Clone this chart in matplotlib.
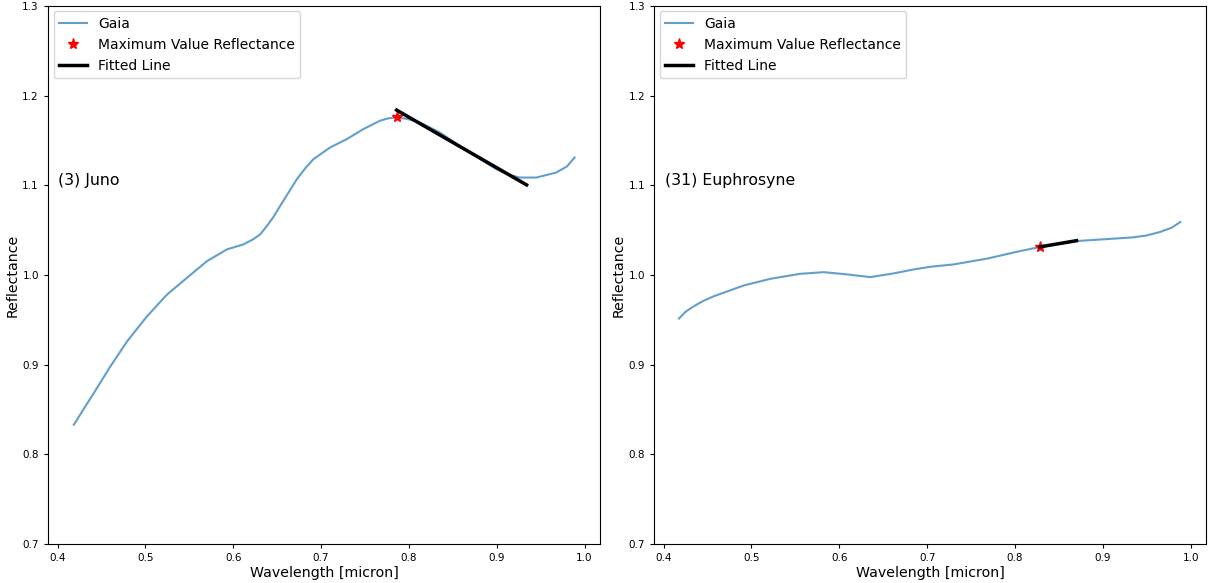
import matplotlib
matplotlib.use("Agg")
import matplotlib.pyplot as plt

# Gaia reflectance spectra (smoothed), wavelength in micron
juno_wl = [0.4185, 0.4300, 0.4413, 0.4602, 0.4792, 0.5019, 0.5246, 0.5474,
           0.5701, 0.5928, 0.6117, 0.6231, 0.6307, 0.6383, 0.6460, 0.6534,
           0.6630, 0.6724, 0.6820, 0.6913, 0.7102, 0.7292, 0.7481, 0.7670,
           0.7760, 0.7860, 0.7980, 0.8125, 0.8350, 0.8690, 0.8997, 0.9130,
           0.9261, 0.9451, 0.9678, 0.9800, 0.9886]
juno_refl = [0.8330, 0.8510, 0.8684, 0.8982, 0.9261, 0.9540, 0.9782, 0.9969,
             1.0154, 1.0285, 1.0341, 1.0400, 1.0453, 1.0546, 1.0650, 1.0770,
             1.0920, 1.1067, 1.1190, 1.1291, 1.1421, 1.1514, 1.1626, 1.1719,
             1.1745, 1.1757, 1.1740, 1.1700, 1.1590, 1.1365, 1.1179, 1.1120,
             1.1086, 1.1086, 1.1142, 1.1210, 1.1309]
juno_max = (0.786, 1.1757)
juno_fit_x = [0.786, 0.934]
juno_fit_y = [1.1838, 1.1004]

euph_wl = [0.4174, 0.4250, 0.4345, 0.4450, 0.4572, 0.4913, 0.5216, 0.5557,
           0.5822, 0.6088, 0.6352, 0.6617, 0.6845, 0.7034, 0.7299, 0.7678,
           0.8057, 0.8284, 0.8701, 0.9003, 0.9344, 0.9500, 0.9648, 0.9780,
           0.9883]
euph_refl = [0.9514, 0.9590, 0.9652, 0.9710, 0.9763, 0.9883, 0.9957, 1.0013,
             1.0031, 1.0006, 0.9976, 1.0017, 1.0061, 1.0091, 1.0117, 1.0181,
             1.0266, 1.0311, 1.0378, 1.0397, 1.0419, 1.0440, 1.0478, 1.0525,
             1.0590]
euph_max = (0.8284, 1.0315)
euph_fit_x = [0.8284, 0.870]
euph_fit_y = [1.0313, 1.0382]

names = ["(3) Juno", "(31) Euphrosyne"]
y_ticks = [0.7, 0.8, 0.9, 1.0, 1.1, 1.2, 1.3]
x_ticks = [0.4, 0.5, 0.6, 0.7, 0.8, 0.9, 1.0]

fig = plt.figure(figsize=(12.08, 5.83), dpi=100)
axes = [fig.add_axes([0.0397, 0.0669, 0.4570, 0.9230]),
        fig.add_axes([0.5414, 0.0669, 0.4570, 0.9230])]

panels = [
    (juno_wl, juno_refl, juno_max, juno_fit_x, juno_fit_y),
    (euph_wl, euph_refl, euph_max, euph_fit_x, euph_fit_y),
]

for ax, name, (wl, refl, mx, fx, fy) in zip(axes, names, panels):
    ax.plot(wl, refl, color="tab:blue", alpha=0.7, lw=1.5, label="Gaia")
    ax.plot([mx[0]], [mx[1]], "*", color="red", ms=8, ls="none",
            label="Maximum Value Reflectance")
    ax.plot(fx, fy, color="black", lw=2.5, label="Fitted Line")
    ax.set_ylim(0.7, 1.3)
    ax.set_xlim(0.389, 1.0176)
    ax.set_yticks(y_ticks)
    ax.set_xticks(x_ticks)
    ax.tick_params(labelsize=7.5, length=3)
    ax.set_xlabel("Wavelength [micron]", fontsize=10.2, labelpad=2)
    ax.set_ylabel("Reflectance", fontsize=10.2, labelpad=2)
    ax.text(0.401, 1.105, name, fontsize=11.3, va="center", ha="left")
    ax.legend(loc="upper left", fontsize=10, handlelength=2.0,
              borderaxespad=0.4)

fig.savefig("out.png", dpi=100)
